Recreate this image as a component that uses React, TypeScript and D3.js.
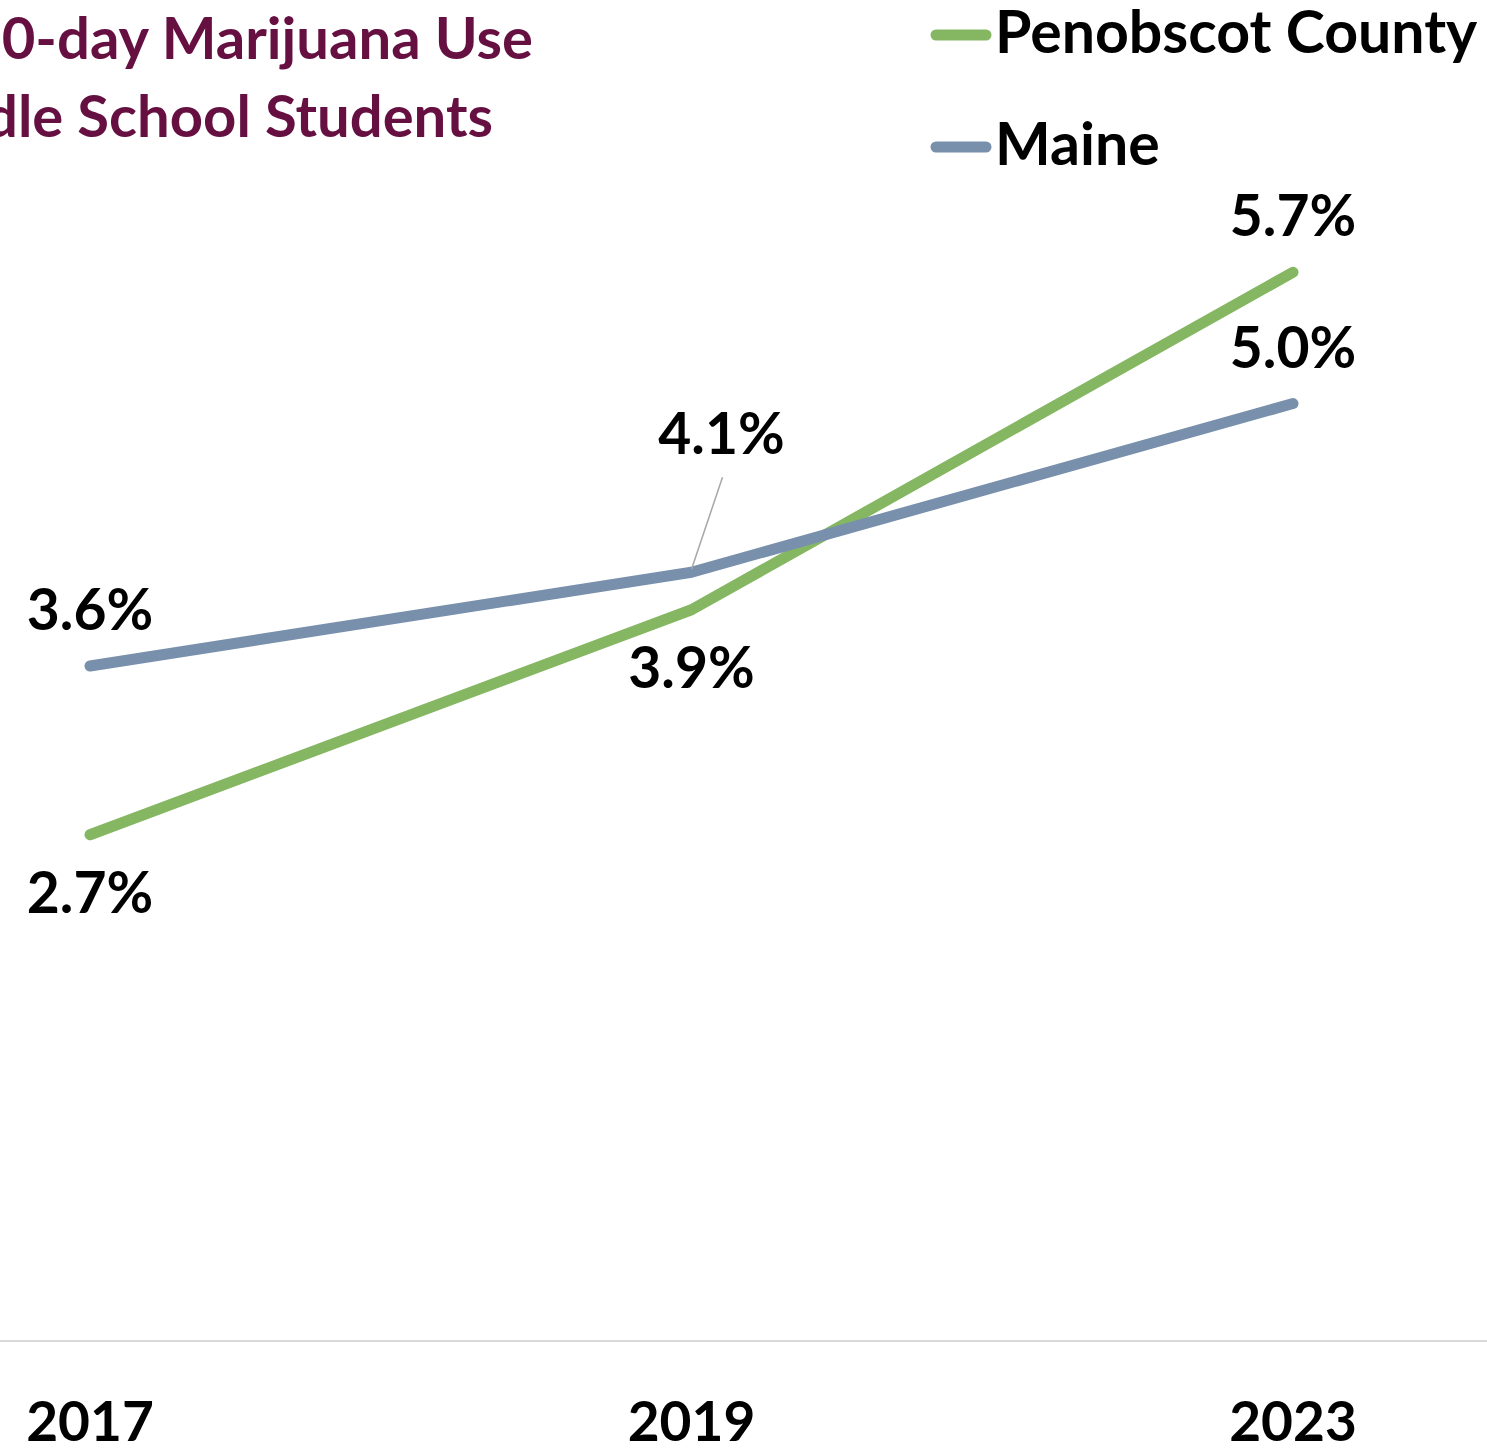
import { useEffect } from "react";
import * as d3 from "d3";

const years = ["2017", "2019", "2023"];
const penobscot = [2.7, 3.9, 5.7];
const maine = [3.6, 4.1, 5.0];
const titleLines = ["30-day Marijuana Use", "Middle School Students"];

const W = 1487;
const H = 1451;
const FONT = "Lato, 'Open Sans', sans-serif";

export default function App() {
  useEffect(() => {
    document.body.style.margin = "0";
  }, []);

  const x = d3.scalePoint<string>().domain(years).range([90, 1293]);
  const y = d3.scaleLinear().domain([0, 7]).range([1341, 28.5]);

  const line = d3
    .line<number>()
    .x((_, i) => x(years[i]) as number)
    .y((d) => y(d));

  const series = [
    { name: "Penobscot County", values: penobscot, color: "#85B763", place: ["below", "below", "above"] },
    { name: "Maine", values: maine, color: "#7890AB", place: ["above", "leader", "above"] },
  ];

  const fmt = (v: number) => `${v.toFixed(1)}%`;
  const labelSize = 57;

  return (
    <svg width={W} height={H} style={{ display: "block" }} fontFamily={FONT}>
      <rect width={W} height={H} fill="#fff" />

      {/* title, clipped at left edge like the source */}
      <text x={533} y={59} textAnchor="end" fontSize={58} fontWeight={700} fill="#661042">
        {titleLines[0]}
      </text>
      <text x={493} y={137} textAnchor="end" fontSize={58} fontWeight={700} fill="#661042">
        {titleLines[1]}
      </text>

      {/* baseline axis */}
      <line x1={0} x2={W} y1={y(0)} y2={y(0)} stroke="#d9d9d9" strokeWidth={2} />
      {years.map((yr) => (
        <text key={yr} x={x(yr)} y={1441} textAnchor="middle" fontSize={55} fontWeight={700} fill="#000">
          {yr}
        </text>
      ))}

      {series.map((s) => (
        <path
          key={s.name}
          d={line(s.values) as string}
          fill="none"
          stroke={s.color}
          strokeWidth={11}
          strokeLinecap="round"
          strokeLinejoin="round"
        />
      ))}

      {series.map((s) =>
        s.values.map((v, i) => {
          const px = x(years[i]) as number;
          const py = y(v);
          const p = s.place[i];
          if (p === "leader") {
            return (
              <g key={s.name + i}>
                <line x1={px} y1={py - 3} x2={px + 31} y2={py - 95} stroke="#a6a6a6" strokeWidth={1.5} />
                <text x={px + 30} y={py - 118} textAnchor="middle" fontSize={labelSize} fontWeight={700} fill="#000">
                  {fmt(v)}
                </text>
              </g>
            );
          }
          return (
            <text
              key={s.name + i}
              x={px}
              y={p === "above" ? py - 36 : py + 78}
              textAnchor="middle"
              fontSize={labelSize}
              fontWeight={700}
              fill="#000"
            >
              {fmt(v)}
            </text>
          );
        })
      )}

      {/* legend */}
      {series.map((s, i) => (
        <g key={"lg" + s.name} transform={`translate(0, ${i * 112})`}>
          <line x1={936} x2={986} y1={35} y2={35} stroke={s.color} strokeWidth={11} strokeLinecap="round" />
          <text x={995} y={53} fontSize={59} fontWeight={700} fill="#000">
            {s.name}
          </text>
        </g>
      ))}
    </svg>
  );
}
